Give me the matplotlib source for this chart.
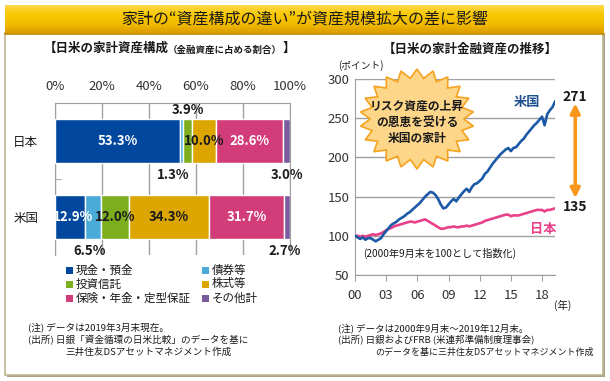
import numpy as np
import matplotlib
matplotlib.use("Agg")
import matplotlib.pyplot as plt
from matplotlib.patches import Rectangle, Polygon, FancyArrowPatch
from matplotlib.colors import LinearSegmentedColormap

plt.rcParams['font.family'] = ['Noto Sans CJK JP', 'DejaVu Sans']

# ---------------- data ----------------
countries = ["日本", "米国"]
asset_names = ["現金・預金", "債券等", "投資信託", "株式等", "保険・年金・定型保証", "その他計"]
cash = [53.3, 12.9]
bonds = [1.3, 6.5]
trusts = [3.9, 12.0]
stocks = [10.0, 34.3]
insurance = [28.6, 31.7]
other = [3.0, 2.7]
pct_ticks = [0, 20, 40, 60, 80, 100]
pct_labels = ["0%", "20%", "40%", "60%", "80%", "100%"]

# quarterly index (Sep 2000 = 100) from 2000Q3 to 2019Q4
us_index = [100, 98,
            96, 98, 95, 97,
            97, 95, 93, 95,
            97, 102, 106, 110,
            114, 116, 118, 121,
            123, 125, 128, 130,
            133, 136, 139, 142,
            146, 150, 153, 156,
            155, 152, 147, 140,
            135, 136, 140, 144,
            147, 144, 149, 153,
            157, 160, 156, 162,
            166, 167, 170, 173,
            179, 182, 187, 192,
            196, 200, 204, 207,
            210, 212, 208, 212,
            213, 217, 221, 224,
            229, 233, 237, 241,
            244, 248, 252, 241,
            255, 260, 264, 271]
jp_index = [100, 100,
            99, 100, 99, 100,
            101, 102, 101, 102,
            103, 105, 107, 109,
            110, 112, 113, 114,
            115, 116, 117, 118,
            118, 117, 118, 119,
            120, 121, 119, 117,
            115, 113, 111, 109,
            109, 110, 111, 111,
            112, 111, 111, 112,
            112, 113, 112, 113,
            114, 115, 116, 117,
            119, 120, 121, 122,
            123, 124, 125, 126,
            127, 127, 125, 126,
            126, 126, 127, 128,
            129, 130, 131, 132,
            133, 133, 133, 131,
            133, 133, 134, 135]
year_ticks = ["00", "03", "06", "09", "12", "15", "18"]
y_ticks = [50, 100, 150, 200, 250, 300]
us_end, jp_end = 271, 135

# ---------------- layout helpers ----------------
W, H = 610, 381
fig = plt.figure(figsize=(W / 100, H / 100), dpi=100)
renderer = fig.canvas.get_renderer()

def rect(x0, y0, x1, y1):
    return [x0 / W, 1 - y1 / H, (x1 - x0) / W, (y1 - y0) / H]

# background / frame
bg = fig.add_axes([0, 0, 1, 1], zorder=-5)
bg.set_xlim(0, W); bg.set_ylim(H, 0); bg.axis('off')
bg.add_patch(Rectangle((7, 34), 598, 343, facecolor='#A9A385', edgecolor='none'))
bg.add_patch(Rectangle((5, 33), 598, 342, facecolor='white', edgecolor='#BDB592', lw=1.2))
grad = np.linspace(0, 1, 60).reshape(-1, 1)
cmap = LinearSegmentedColormap.from_list('g', ['#FFD84A', '#F8C800', '#F2BA00', '#D89A00'])
bg.imshow(grad, extent=[5, 604, 34, 5], aspect='auto', cmap=cmap, zorder=1)
bg.plot([5, 604], [34, 34], color='#C08A00', lw=1.2, zorder=2)
bg.text(305, 19.5, "家計の“資産構成の違い”が資産規模拡大の差に影響", ha='center', va='center',
        fontsize=11.5, color='#1a1a1a', zorder=3)

# subtitles (left one is composed of three runs, laid out side by side)
runs = [("【日米の家計資産構成", 9.0), ("（金融資産に占める割合）", 6.8), ("】", 9.0)]
widths = []
for s, fs in runs:
    tt = bg.text(0, 0, s, fontsize=fs, fontweight='bold')
    widths.append(tt.get_window_extent(renderer=renderer).width)
    tt.remove()
x = 169 - sum(widths) / 2
for (s, fs), w in zip(runs, widths):
    bg.text(x, 48.5 if fs > 7 else 49.5, s, ha='left', va='center', fontsize=fs, fontweight='bold', color='#1a1a1a')
    x += w
bg.text(470, 49, "【日米の家計金融資産の推移】", ha='center', va='center', fontsize=9.0, fontweight='bold', color='#1a1a1a')

# ---------------- left: stacked bars ----------------
colors = ['#00479D', '#4AAAD8', '#7DAE1E', '#DCA500', '#D23C78', '#7A5C9E']
series = [cash, bonds, trusts, stocks, insurance, other]
placement = [('in', 'in'), ('below', 'below'), ('above', 'in'), ('in', 'in'), ('in', 'in'), ('below', 'below')]
label_color = ['white', '#1a1a1a', '#1a1a1a', '#1a1a1a', 'white', '#1a1a1a']
dx_adjust = [(0, 1), (-3.5, -1.3), (0, 0), (0, 0), (0, 0), (0, -1)]

axL = fig.add_axes(rect(55, 103, 290, 255))
ypos = np.arange(len(countries))
bar_h = 0.58
left = np.zeros(len(countries))
for vals, col, plc, lc, dxa in zip(series, colors, placement, label_color, dx_adjust):
    v = np.array(vals)
    axL.barh(ypos, v, left=left, height=bar_h, color=col, edgecolor='white', linewidth=1.0, zorder=3)
    for i in range(len(countries)):
        cx = left[i] + v[i] / 2 + dxa[i]
        if plc[i] == 'in':
            axL.text(cx, ypos[i], f"{v[i]:.1f}%", ha='center', va='center', fontsize=9.5,
                     fontweight='bold', color=lc, zorder=5, clip_on=False)
        elif plc[i] == 'above':
            axL.text(cx, ypos[i] - bar_h / 2 - 0.12, f"{v[i]:.1f}%", ha='center', va='center',
                     fontsize=9.5, fontweight='bold', color='#1a1a1a', zorder=5, clip_on=False)
        else:
            axL.text(cx, ypos[i] + bar_h / 2 + 0.16, f"{v[i]:.1f}%", ha='center', va='center',
                     fontsize=9.5, fontweight='bold', color='#1a1a1a', zorder=5, clip_on=False)
    left = left + v

axL.set_xlim(0, 100)
axL.set_ylim(len(countries) - 0.5, -0.5)
axL.set_xticks(pct_ticks)
axL.set_xticklabels(pct_labels)
axL.xaxis.tick_top()
axL.tick_params(axis='x', length=0, pad=7, labelsize=9.5, labelcolor='#333333')
axL.set_yticks(ypos)
axL.set_yticklabels(countries)
axL.tick_params(axis='y', length=0, pad=12, labelsize=9, labelcolor='#1a1a1a')
axL.set_yticks([0.5], minor=True)
axL.tick_params(axis='y', which='minor', direction='in', length=4, color='#999999')
axL.grid(axis='x', color='#A0A0A0', lw=1, zorder=0)
for s in ['left', 'top', 'right']:
    axL.spines[s].set_color('#A0A0A0')
axL.spines['bottom'].set_visible(False)

# legend (manual, 2 columns)
leg_rows = [270, 284, 298]
for k, (name, col) in enumerate(zip(asset_names, colors)):
    r, c = k // 2, k % 2
    x = 66 if c == 0 else 202
    bg.add_patch(Rectangle((x, leg_rows[r] - 3.5), 7, 7, facecolor=col, edgecolor='none'))
    bg.text(x + 10, leg_rows[r], name, ha='left', va='center', fontsize=8.3, color='#1a1a1a')

# notes
note_c = '#1a1a1a'
bg.text(28, 328, "(注) データは2019年3月末現在。", ha='left', va='center', fontsize=6.9, color=note_c)
bg.text(28, 340, "(出所) 日銀「資金循環の日米比較」のデータを基に", ha='left', va='center', fontsize=6.9, color=note_c)
bg.text(65, 352, "三井住友DSアセットマネジメント作成", ha='left', va='center', fontsize=6.9, color=note_c)
bg.text(338, 328, "(注) データは2000年9月末～2019年12月末。", ha='left', va='center', fontsize=6.8, color=note_c)
bg.text(338, 340, "(出所) 日銀およびFRB (米連邦準備制度理事会)", ha='left', va='center', fontsize=6.8, color=note_c)
bg.text(375, 352, "のデータを基に三井住友DSアセットマネジメント作成", ha='left', va='center', fontsize=6.45, color=note_c)

# ---------------- right: line chart ----------------
axR = fig.add_axes(rect(355, 79, 555, 275))
n = len(us_index)
t = 2000.75 + 0.25 * np.arange(n)
axR.plot(t, us_index, color='#1C59A7', lw=1.9, zorder=3)
axR.plot(t, jp_index, color='#E8418A', lw=1.9, zorder=2)
axR.set_xlim(t[0], t[-1])
axR.set_ylim(50, 300)
axR.set_yticks(y_ticks)
axR.tick_params(axis='y', length=0, pad=4, labelsize=9.5, labelcolor='#333333')
xt = [t[0] + 3 * k for k in range(len(year_ticks))]
axR.set_xticks(xt)
axR.set_xticklabels(year_ticks)
axR.tick_params(axis='x', length=4, direction='out', color='#A0A0A0', pad=6, labelsize=9.5, labelcolor='#333333')
axR.grid(axis='y', color='#A0A0A0', lw=1, zorder=0)
for s in ['top', 'right']:
    axR.spines[s].set_visible(False)
for s in ['left', 'bottom']:
    axR.spines[s].set_color('#A0A0A0')

ax_x = t[-1] + 1.95
axR.text(ax_x, us_end + 6, f"{us_end}", ha='center', va='center', fontsize=10, fontweight='bold',
         color='#1a1a1a', clip_on=False)
axR.text(ax_x, jp_end + 1.5, f"{jp_end}", ha='center', va='center', fontsize=10, fontweight='bold',
         color='#1a1a1a', clip_on=False)
arr = FancyArrowPatch((ax_x, jp_end + 13), (ax_x, us_end - 2), arrowstyle='<|-|>', mutation_scale=14,
                      color='#F7981D', lw=2.6, clip_on=False, shrinkA=0, shrinkB=0)
axR.add_patch(arr)
axR.text(2017.3, 271, "米国", ha='center', va='center', fontsize=9.5, fontweight='bold', color='#1F4F8F')
axR.text(2018.85, 109, "日本", ha='center', va='center', fontsize=9.5, fontweight='bold', color='#E8418A',
         clip_on=False)
axR.text(2008.9, 78, "(2000年9月末を100として指数化)", ha='center', va='center', fontsize=7.3, color='#1a1a1a')

bg.text(361, 66, "(ポイント)", ha='center', va='center', fontsize=7, color='#1a1a1a')
bg.text(563, 305, "(年)", ha='center', va='center', fontsize=7.5, color='#1a1a1a')

# starburst callout
ov = fig.add_axes([0, 0, 1, 1], zorder=10)
ov.set_xlim(0, W); ov.set_ylim(H, 0); ov.axis('off')
npts = 22
ang = np.linspace(0, 2 * np.pi, 2 * npts, endpoint=False) + np.pi / 2
rad = np.where(np.arange(2 * npts) % 2 == 0, 1.0, 0.82)
cx, cy, rx, ry = 417, 119, 57, 50
star = np.column_stack([cx + rx * rad * np.cos(ang), cy + ry * rad * np.sin(ang)])
ov.add_patch(Polygon(star, closed=True, facecolor='#FDD68A', edgecolor='#F5A21E', lw=1.2))
ov.text(cx, 106, "リスク資産の上昇", ha='center', va='center', fontsize=8.5, fontweight='bold', color='#1a1a1a')
ov.text(cx, 122, "の恩恵を受ける", ha='center', va='center', fontsize=8.5, fontweight='bold', color='#1a1a1a')
ov.text(cx, 138, "米国の家計", ha='center', va='center', fontsize=8.5, fontweight='bold', color='#1a1a1a')

fig.savefig("out.png", dpi=100)
